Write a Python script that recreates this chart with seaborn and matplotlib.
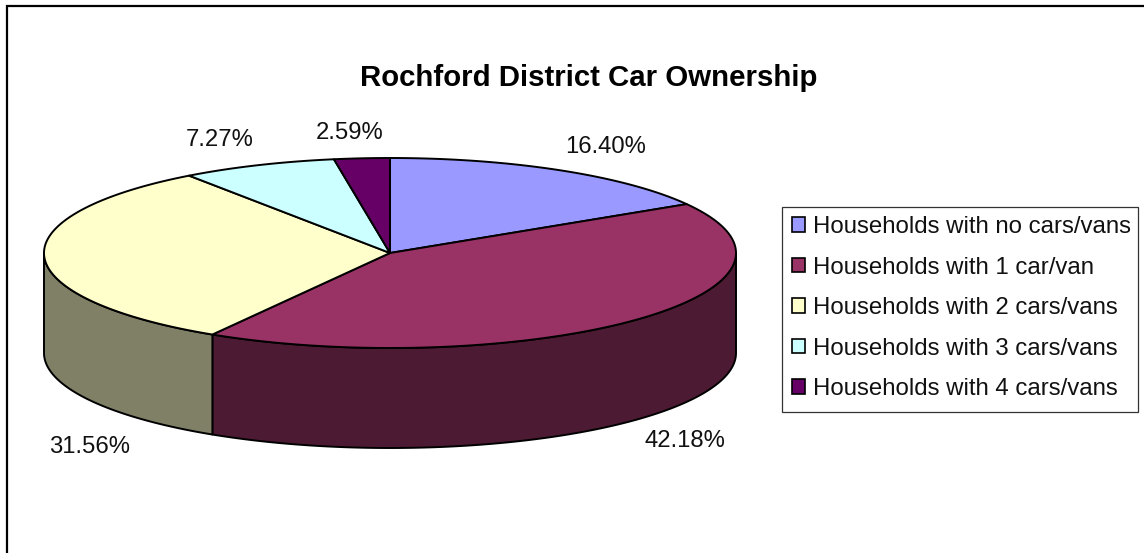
import numpy as np
import matplotlib
matplotlib.use("Agg")
import matplotlib.pyplot as plt
from matplotlib.patches import Patch, Polygon, Rectangle
import seaborn as sns

# Census shares of households by number of cars or vans
categories = [
    "Households with no cars/vans",
    "Households with 1 car/van",
    "Households with 2 cars/vans",
    "Households with 3 cars/vans",
    "Households with 4 cars/vans",
]
shares = [16.40, 42.18, 31.56, 7.27, 2.59]
top_colors = ["#9999FF", "#993366", "#FFFFCC", "#CCFFFF", "#660066"]
side_colors = ["#4D4D80", "#4D1A33", "#808066", "#668080", "#330033"]
title = "Rochford District Car Ownership"
label_centres = [(606, 147), (685, 441), (90, 447), (220, 140), (350, 133)]

sns.set_theme(style="white")
plt.rcParams["font.family"] = ["Liberation Sans", "DejaVu Sans"]

fig = plt.figure(figsize=(11.44, 5.53), dpi=100, facecolor="white")
ax = fig.add_axes([0, 0, 1, 1])
ax.set_xlim(0, 1144)
ax.set_ylim(553, 0)
ax.axis("off")

# Disc geometry on the pixel-sized canvas
cx, cy, rx, ry, depth = 390, 253, 346, 95, 100


def rim(deg, drop=0):
    a = np.radians(deg)
    return np.column_stack([cx + rx * np.sin(a), cy - ry * np.cos(a) + drop])


palette = sns.color_palette(top_colors)
edges = np.concatenate([[0], np.cumsum(shares) * 3.6])
edges[-1] = 360

# Wall of the disc: only the part facing the viewer, between 90 and 270 degrees
for i in range(len(shares)):
    lo, hi = max(edges[i], 90), min(edges[i + 1], 270)
    if hi <= lo:
        continue
    arc = np.linspace(lo, hi, 120)
    wall = np.vstack([rim(arc), rim(arc[::-1], depth)])
    ax.add_patch(Polygon(wall, closed=True, facecolor=side_colors[i],
                         edgecolor="black", linewidth=1.4, joinstyle="round", zorder=2))

# Top face wedges
for i, colour in enumerate(palette):
    arc = np.linspace(edges[i], edges[i + 1], 200)
    wedge = np.vstack([[cx, cy], rim(arc)])
    ax.add_patch(Polygon(wedge, closed=True, facecolor=colour,
                         edgecolor="black", linewidth=1.4, joinstyle="round", zorder=3))

# Percentage labels
for share, (x, y) in zip(shares, label_centres):
    ax.text(x, y, f"{share:.2f}%", ha="center", va="center", fontsize=17.2, color="#111111")

ax.text(589, 78, title, ha="center", va="center", fontsize=21.2, fontweight="bold", color="black")

# Chart frame: only the top and left edges fall inside the canvas
ax.plot([6.5, 6.5, 1144], [553, 5.5, 5.5], color="black", linewidth=1.6,
        solid_joinstyle="miter", clip_on=False, zorder=1)

# Legend box is drawn separately so its margins can differ on each side
ax.add_patch(Rectangle((782, 207), 356, 205, facecolor="white", edgecolor="#333333",
                       linewidth=0.9, zorder=4))
handles = [Patch(facecolor=c, edgecolor="black", linewidth=1.2) for c in palette]
legend = ax.legend(
    handles, categories,
    loc="upper left", bbox_to_anchor=(792 / 1144, 1 - 216 / 553),
    borderaxespad=0, borderpad=0, fontsize=17.3, frameon=False,
    handlelength=0.54, handleheight=0.54, handletextpad=0.33, labelspacing=0.77,
)
legend.set_zorder(5)
for label in legend.get_texts():
    label.set_color("#111111")

fig.savefig("out.png", dpi=100, facecolor="white")
